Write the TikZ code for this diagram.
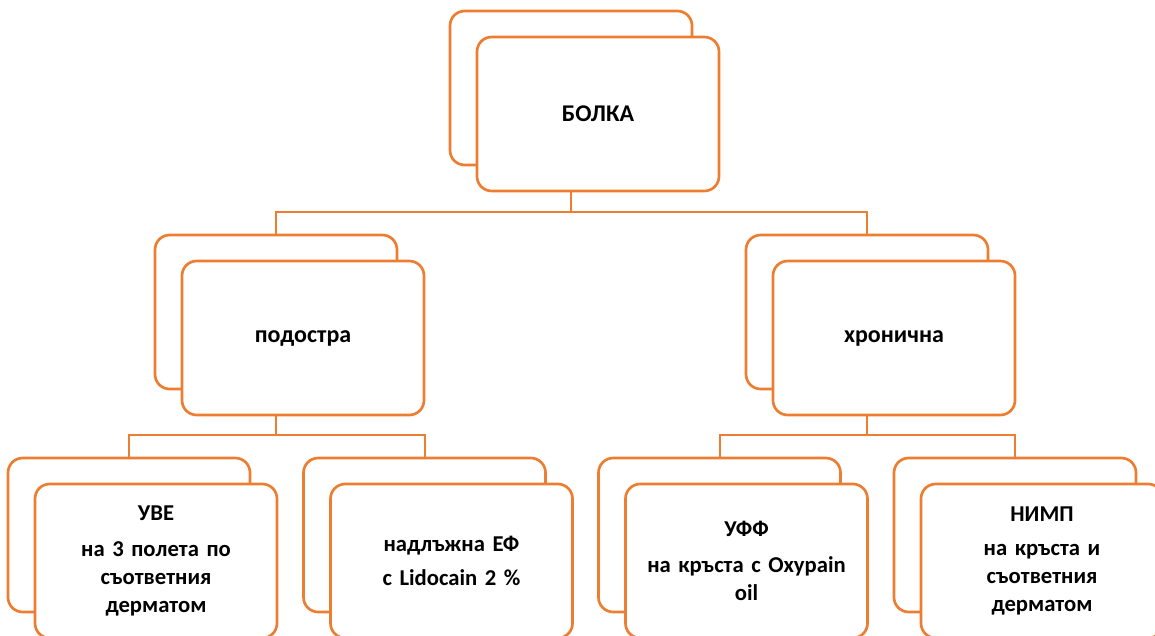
\documentclass[tikz,border=0pt]{standalone}
\usepackage{fontspec}
\setmainfont{Carlito}
\usetikzlibrary{positioning,calc}
\definecolor{boxorange}{HTML}{ED7D31}

\begin{document}
\begin{tikzpicture}[x=0.75pt,y=-0.75pt,
    backbox/.style={draw=boxorange,line width=2pt,fill=white,rounded corners=11pt,inner sep=0pt,minimum width=181.5pt,minimum height=115.5pt},
    statt/.style={backbox,text width=170pt,align=center,font=\bfseries\fontsize{18}{21}\selectfont},
    leaf/.style={statt,font=\bfseries\fontsize{17}{21}\selectfont},
    link/.style={draw=boxorange,line width=1.5pt}]
%
   \useasboundingbox (0,0) rectangle (1155,635);
   \node[backbox]  (B1) at (571,88)    {};
   \node[backbox]  (B2) at (276,312)   {};
   \node[backbox]  (B3) at (867,312)   {};
   \node[backbox]  (B4) at (129,535)   {};
   \node[backbox]  (B5) at (424.5,535) {};
   \node[backbox]  (B6) at (719.5,535) {};
   \node[backbox]  (B7) at (1015,535)  {};
%
   \node[statt]    (N1) at ($(B1)+(27,26)$) {БОЛКА};
   \node[statt]    (N2) at ($(B2)+(27,26)$) {подостра};
   \node[statt]    (N3) at ($(B3)+(27,26)$) {хронична};
   \node[leaf]     (N4) at ($(B4)+(27,26)$) {УВЕ\\[6pt] на 3 полета по\\ съответния\\ дерматом};
   \node[leaf]     (N5) at ($(B5)+(27,26)$) {надлъжна ЕФ\\[4pt] с Lidocain 2 \%};
   \node[leaf]     (N6) at ($(B6)+(27,26)$) {УФФ\\[6pt] на кръста с Oxypain\\ oil};
   \node[leaf]     (N7) at ($(B7)+(27,26)$) {НИМП\\[4pt] на кръста и\\ съответния\\ дерматом};
%
   \coordinate (J1) at (571,212);
   \coordinate (J2) at (276,435);
   \coordinate (J3) at (867,435);
   \draw[link] (N1.south -| B1.center) -- (J1) -| (B2.north);
   \draw[link] (J1) -| (B3.north);
   \draw[link] (N2.south -| B2.center) -- (J2) -| (B4.north);
   \draw[link] (J2) -| (B5.north);
   \draw[link] (N3.south -| B3.center) -- (J3) -| (B6.north);
   \draw[link] (J3) -| (B7.north);
\end{tikzpicture}
\end{document}
